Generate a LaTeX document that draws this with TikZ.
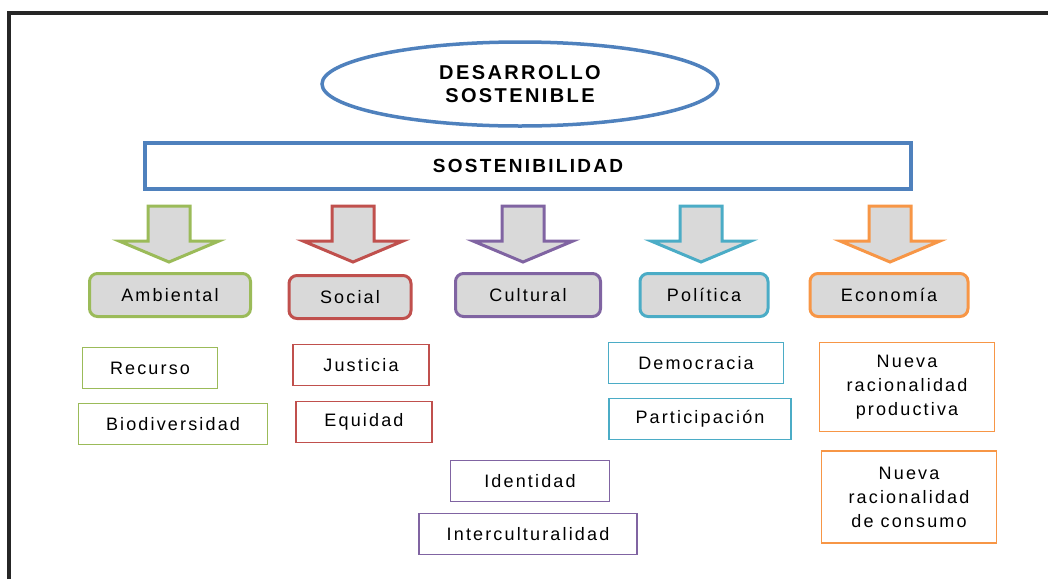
\documentclass[tikz,border=0pt]{standalone}
\usepackage{fontspec}
\setmainfont[LetterSpace=12]{Liberation Sans}
\usepackage{tikz}
\usetikzlibrary{shapes.geometric}

\definecolor{azul}{HTML}{4F81BD}
\definecolor{verde}{HTML}{9BBB59}
\definecolor{rojo}{HTML}{C0504D}
\definecolor{morado}{HTML}{8064A2}
\definecolor{cian}{HTML}{4BACC6}
\definecolor{naranja}{HTML}{F79646}
\definecolor{gris}{HTML}{D9D9D9}

\begin{document}
\begin{tikzpicture}[x=1pt, y=-1pt,
		texto/.style = {font=\fontsize{18}{24}\selectfont, align=center, inner sep=0pt},
		categoria/.style = {texto, draw, line width=3pt, rounded corners=8pt, fill=gris, minimum height=43pt},
		concepto/.style = {texto, draw, line width=1.3pt, fill=white, minimum height=41pt},
		flecha/.style = {line width=3pt, fill=gris, line join=miter}]
		\useasboundingbox (0,0) rectangle (1048,579);
		% marco
		\draw[line width=4pt, black!85] (9,579) -- (9,13) -- (1060,13);
		% titulo
		\node[ellipse, draw=azul, line width=3.5pt, minimum width=396pt, minimum height=84pt, texto, font=\fontsize{20}{23}\selectfont\bfseries] (desarrollo) at (520,84) {DESARROLLO\\SOSTENIBLE};
		\node[draw=azul, line width=4.5pt, minimum width=766pt, minimum height=46pt, texto, font=\fontsize{19}{23}\selectfont\bfseries] (sosten) at (528,166) {SOSTENIBILIDAD};
		% flechas
		\foreach \x/\c in {169/verde, 353/rojo, 523/morado, 701/cian, 890/naranja}
			\draw[flecha, draw=\c] (\x-21,206) -- (\x+21,206) -- (\x+21,241) -- (\x+50,241) -- (\x,262) -- (\x-50,241) -- (\x-21,241) -- cycle;
		% dimensiones
		\node[categoria, draw=verde, minimum width=161pt] (amb) at (170,295) {Ambiental};
		\node[categoria, draw=rojo, minimum width=122pt] (soc) at (350,297) {Social};
		\node[categoria, draw=morado, minimum width=145pt] (cul) at (528,295) {Cultural};
		\node[categoria, draw=cian, minimum width=128pt] (pol) at (704,295) {Política};
		\node[categoria, draw=naranja, minimum width=158pt] (eco) at (889,295) {Economía};
		% conceptos
		\node[concepto, draw=verde, minimum width=135pt] (rec) at (150,368) {Recurso};
		\node[concepto, draw=verde, minimum width=189pt] (bio) at (173,424) {Biodiversidad};
		\node[concepto, draw=rojo, minimum width=136pt] (jus) at (361,365) {Justicia};
		\node[concepto, draw=rojo, minimum width=136pt] (equ) at (364,422) {Equidad};
		\node[concepto, draw=morado, minimum width=159pt] (ide) at (530,481) {Identidad};
		\node[concepto, draw=morado, minimum width=218pt] (inter) at (528,534) {Interculturalidad};
		\node[concepto, draw=cian, minimum width=175pt] (dem) at (696,363) {Democracia};
		\node[concepto, draw=cian, minimum width=182pt] (par) at (700,419) {Participación};
		\node[concepto, draw=naranja, minimum width=175pt, minimum height=89pt] (nrp) at (907,387) {Nueva\\racionalidad\\productiva};
		\node[concepto, draw=naranja, minimum width=175pt, minimum height=92pt] (nrc) at (909,497) {Nueva\\racionalidad\\de consumo};
	\end{tikzpicture}
\end{document}
